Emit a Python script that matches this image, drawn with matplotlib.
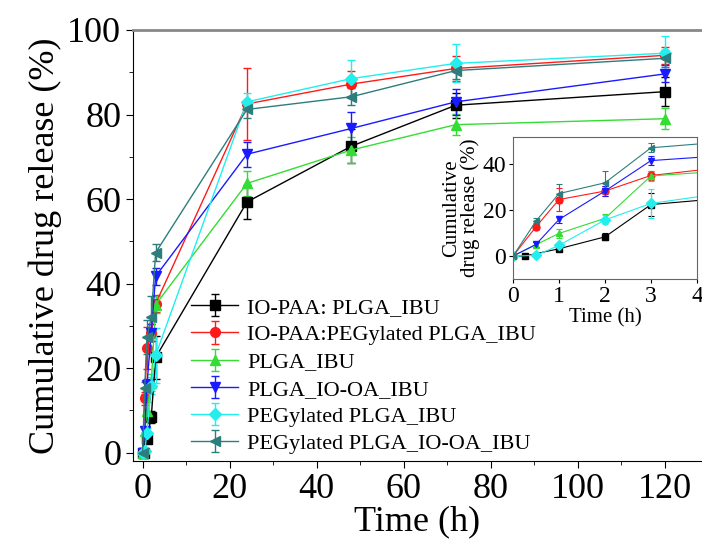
import matplotlib
matplotlib.use("Agg")
import matplotlib.pyplot as plt
from matplotlib.ticker import MultipleLocator

plt.rcParams['font.family'] = ['Liberation Serif', 'DejaVu Serif']

# time points (h)
t_black = [0, 0.25, 1, 2, 3, 24, 48, 72, 120]
t_other = [0, 0.5, 1, 2, 3, 24, 48, 72, 120]

labels = ["IO-PAA: PLGA_IBU", "IO-PAA:PEGylated PLGA_IBU", "PLGA_IBU",
          "PLGA_IO-OA_IBU", "PEGylated PLGA_IBU", "PEGylated PLGA_IO-OA_IBU"]

# cumulative release (%)
rel_black = [0, 0, 3.2, 8.4, 22.5, 59.3, 72.5, 82.2, 85.4]
rel_red = [0, 12.8, 24.7, 28.4, 35.2, 82.5, 87.2, 90.9, 94.0]
rel_green = [0, 5.0, 9.9, 16.5, 35.0, 63.7, 71.6, 77.6, 79.0]
rel_blue = [0, 5.1, 16.0, 28.4, 41.7, 70.6, 76.7, 83.0, 89.6]
rel_cyan = [0, 0.3, 4.7, 15.8, 23.0, 83.0, 88.5, 92.1, 94.5]
rel_teal = [0, 15.3, 27.3, 32.0, 47.3, 81.2, 84.2, 90.4, 93.3]

# error bars (%)
err_black = [0, 0.3, 1.0, 1.5, 5.0, 4.0, 4.0, 3.0, 3.5]
err_red = [0, 1.5, 5.0, 2.0, 2.0, 8.5, 3.0, 3.0, 2.0]
err_green = [0, 1.0, 2.0, 2.0, 2.0, 3.0, 3.0, 2.5, 2.5]
err_blue = [0, 1.0, 1.5, 2.0, 2.0, 3.0, 4.0, 3.0, 2.0]
err_cyan = [0, 0.5, 1.0, 2.0, 6.5, 2.0, 4.5, 4.5, 4.0]
err_teal = [0, 1.5, 4.0, 5.0, 2.0, 2.0, 2.0, 2.0, 2.0]

series = [
    (t_black, rel_black, err_black, "#000000", "s"),
    (t_other, rel_red, err_red, "#ff1a1a", "o"),
    (t_other, rel_green, err_green, "#33dd33", "^"),
    (t_other, rel_blue, err_blue, "#1a1aff", "v"),
    (t_other, rel_cyan, err_cyan, "#22eeee", "D"),
    (t_other, rel_teal, err_teal, "#2e7d7d", "<"),
]

fig = plt.figure(figsize=(7.02, 5.5), dpi=100)
ax = fig.add_axes([133 / 702, 1 - 461 / 550, 1 - 133 / 702, 431 / 550])

for (t, y, e, c, m), lab in zip(series, labels):
    ms = 6 if m == "D" else 7
    ax.errorbar(t, y, yerr=e, color=c, marker=m, ms=ms, lw=1, elinewidth=1,
                capsize=3, capthick=1, label=lab)

ax.set_xlim(-2.2, 128.6)
ax.set_ylim(-2, 100)
ax.xaxis.set_major_locator(MultipleLocator(20))
ax.xaxis.set_minor_locator(MultipleLocator(10))
ax.yaxis.set_major_locator(MultipleLocator(20))
ax.yaxis.set_minor_locator(MultipleLocator(10))
ax.tick_params(which="both", direction="out", labelsize=26, top=False, right=False)
ax.tick_params(which="major", length=5)
ax.tick_params(which="minor", length=3)
ax.spines["right"].set_visible(False)
ax.spines["top"].set_color("#888888")
ax.spines["top"].set_linewidth(2)
ax.set_xlabel("Time (h)", fontsize=26, labelpad=0)
ax.set_ylabel("Cumulative drug release (%)", fontsize=26, labelpad=4)

leg = ax.legend(loc="upper left", bbox_to_anchor=(0.087, 0.4), frameon=False,
                fontsize=16, handlelength=2.1, handletextpad=0.4,
                labelspacing=0.3, borderaxespad=0)

# inset: first 4 hours
axin = fig.add_axes([513 / 702, 1 - 279 / 550, 184 / 702, 142 / 550])
for (t, y, e, c, m) in series:
    axin.errorbar(t, y, yerr=e, color=c, marker=m, ms=5, lw=0.8,
                  elinewidth=0.8, capsize=2, capthick=0.8)
axin.set_xlim(0, 4)
axin.set_ylim(-10, 52)
axin.set_xticks([0, 1, 2, 3, 4])
axin.set_yticks([0, 20, 40])
axin.tick_params(direction="out", labelsize=17, length=3, pad=2)
for s in axin.spines.values():
    s.set_color("#666666")
axin.set_xlabel("Time (h)", fontsize=15, labelpad=1)
axin.set_ylabel("Cumulative\ndrug release (%)", fontsize=15, labelpad=2,
                linespacing=0.95)

fig.savefig("out.png", dpi=100)
